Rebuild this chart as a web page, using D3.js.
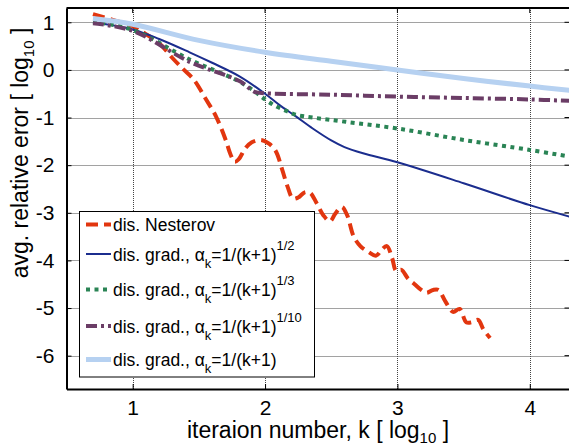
<!DOCTYPE html>
<html><head><meta charset="utf-8">
<script src="https://cdn.jsdelivr.net/npm/d3@7"></script>
<style>body{margin:0;background:#fff}svg{display:block}text{font-family:"Liberation Sans",Arial,sans-serif;fill:#000}</style>
</head><body>
<svg id="c" width="569" height="446"></svg>
<script>
const xTicks = [1, 2, 3, 4];
const yTicks = [-6, -5, -4, -3, -2, -1, 0, 1];

const nesterovX = [0.70,0.85,1.00,1.10,1.20,1.30,1.38,1.46,1.55,1.63,1.70,1.74,1.77,1.80,1.85,1.90,1.97,2.03,2.08,2.13,2.17,2.21,2.25,2.30,2.34,2.39,2.44,2.49,2.53,2.58,2.62,2.67,2.72,2.78,2.84,2.88,2.92,2.96,2.99,3.03,3.08,3.13,3.18,3.22,3.27,3.31,3.36,3.42,3.47,3.52,3.56,3.61,3.65,3.70];
const nesterovY = [1.17,1.05,0.92,0.75,0.56,0.25,0.02,-0.20,-0.60,-0.98,-1.45,-1.78,-1.93,-1.88,-1.65,-1.52,-1.47,-1.55,-1.70,-2.10,-2.45,-2.70,-2.68,-2.57,-2.58,-2.80,-3.05,-3.18,-3.02,-2.88,-3.05,-3.50,-3.70,-3.82,-3.90,-3.78,-3.70,-3.95,-4.22,-4.20,-4.38,-4.50,-4.62,-4.68,-4.62,-4.62,-4.85,-5.08,-5.02,-5.30,-5.30,-5.25,-5.45,-5.63];

const half_X = [0.70,1.00,1.20,1.43,1.60,1.81,2.00,2.11,2.23,2.36,2.50,2.60,2.74,3.00,3.50,4.00,4.30];
const half_Y = [1.00,0.85,0.65,0.37,0.15,-0.14,-0.50,-0.74,-0.97,-1.23,-1.48,-1.62,-1.75,-1.94,-2.38,-2.84,-3.08];

const third_X = [0.70,1.00,1.43,1.81,1.92,2.00,2.08,2.16,2.23,2.36,2.61,3.00,3.50,4.00,4.30];
const third_Y = [1.01,0.84,0.22,-0.25,-0.45,-0.62,-0.76,-0.86,-0.94,-1.00,-1.09,-1.23,-1.47,-1.68,-1.82];

const tenth_X = [0.70,1.00,1.43,1.81,1.92,2.00,2.50,3.00,3.50,4.00,4.30];
const tenth_Y = [0.98,0.82,0.17,-0.24,-0.46,-0.49,-0.52,-0.56,-0.59,-0.62,-0.65];

const one_X = [0.70,1.00,1.50,2.00,2.50,3.00,3.50,4.00,4.30];
const one_Y = [1.08,0.96,0.62,0.37,0.18,0.00,-0.18,-0.34,-0.43];

const legendLabels = ["dis. Nesterov","dis. grad., α","dis. grad., α","dis. grad., α","dis. grad., α"];
const legendExps = ["", "1/2", "1/3", "1/10", ""];

const series = [
  {x: nesterovX, y: nesterovY, color: "#e2360f", width: 4, dash: "12,6"},
  {x: half_X, y: half_Y, color: "#1b2d8e", width: 2, dash: null},
  {x: third_X, y: third_Y, color: "#2a8455", width: 4, dash: "4,4.5"},
  {x: tenth_X, y: tenth_Y, color: "#6b3d66", width: 4, dash: "11,4,3,4"},
  {x: one_X, y: one_Y, color: "#b6d1f1", width: 5, dash: null}
];

const L = 66.5, R = 569.5, T = 8, B = 389;
const x = d3.scaleLinear().domain([0.5, 4.3]).range([L, R]);
const y = d3.scaleLinear().domain([-6.7, 1.3]).range([B, T]);
const svg = d3.select("#c");

// grid
const grid = svg.append("g").attr("stroke", "#444").attr("stroke-width", 1).attr("stroke-dasharray", "1,1");
grid.selectAll(".gx").data(xTicks).join("line")
  .attr("x1", d => Math.round(x(d)) + 0.5).attr("x2", d => Math.round(x(d)) + 0.5).attr("y1", T).attr("y2", B);
grid.selectAll(".gy").data(yTicks).join("line")
  .attr("y1", d => Math.round(y(d)) + 0.5).attr("y2", d => Math.round(y(d)) + 0.5).attr("x1", L).attr("x2", R);

// lines
svg.append("clipPath").attr("id", "cp").append("rect").attr("x", L).attr("y", T).attr("width", R - L).attr("height", B - T);
const lineGen = d3.line().x(d => x(d[0])).y(d => y(d[1])).curve(d3.curveCatmullRom.alpha(0.5));
const gl = svg.append("g").attr("clip-path", "url(#cp)");
series.forEach(s => {
  const pts = s.x.map((v, i) => [v, s.y[i]]);
  gl.append("path").attr("d", lineGen(pts)).attr("fill", "none")
    .attr("stroke", s.color).attr("stroke-width", s.width)
    .attr("stroke-dasharray", s.dash).attr("stroke-linejoin", "round");
});

// axes
const ax = svg.append("g").attr("transform", `translate(0,${B})`)
  .call(d3.axisBottom(x).tickValues(xTicks).tickFormat(d3.format("d")).tickSizeInner(-5).tickSizeOuter(0).tickPadding(11));
const ay = svg.append("g").attr("transform", `translate(${L},0)`)
  .call(d3.axisLeft(y).tickValues(yTicks).tickFormat(d => d < 0 ? "-" + Math.abs(d) : String(d)).tickSizeInner(-5).tickSizeOuter(0).tickPadding(12));
[ax, ay].forEach(a => {
  a.select(".domain").attr("stroke", "#000").attr("stroke-width", 2);
  a.selectAll(".tick line").attr("stroke", "#000").attr("stroke-width", 1);
  a.selectAll(".tick text").style("font-size", "21px").style("font-family", "Liberation Sans, Arial, sans-serif").attr("fill", "#000");
});
// top and right borders with inward ticks
svg.append("line").attr("x1", L).attr("x2", R).attr("y1", T).attr("y2", T).attr("stroke", "#000").attr("stroke-width", 2);
svg.append("g").selectAll("line").data(xTicks).join("line")
  .attr("x1", d => x(d)).attr("x2", d => x(d)).attr("y1", T).attr("y2", T + 5).attr("stroke", "#000");
svg.append("g").selectAll("line").data(yTicks).join("line")
  .attr("y1", d => y(d)).attr("y2", d => y(d)).attr("x1", R - 5).attr("x2", R).attr("stroke", "#000");

// axis labels
const xl = svg.append("text").attr("x", (L + R) / 2).attr("y", 438).attr("text-anchor", "middle").style("font-size", "23px");
xl.append("tspan").text("iteraion number, k [ log");
xl.append("tspan").attr("dy", 5).style("font-size", "15px").text("10");
xl.append("tspan").attr("dy", -5).text(" ]");

const yl = svg.append("text").attr("transform", "translate(28,153) rotate(-90)").attr("text-anchor", "middle").style("font-size", "23px");
yl.append("tspan").text("avg. relative eror [ log");
yl.append("tspan").attr("dy", 6).style("font-size", "15px").text("10");
yl.append("tspan").attr("dy", -6).text(" ]");

// legend
const lg = svg.append("g");
lg.append("rect").attr("x", 79.5).attr("y", 211.5).attr("width", 235).attr("height", 165.5).attr("fill", "#fff").attr("stroke", "#000").attr("stroke-width", 1);
const rowY = [224.5, 254, 289.5, 326, 359.5];
series.forEach((s, i) => {
  lg.append("line").attr("x1", 86).attr("x2", 111).attr("y1", rowY[i]).attr("y2", rowY[i])
    .attr("stroke", s.color).attr("stroke-width", s.width).attr("stroke-dasharray", s.dash);
  const t = lg.append("text").attr("x", 113).attr("y", rowY[i] + 6.5).style("font-size", "17.5px");
  t.append("tspan").text(legendLabels[i]);
  if (i > 0) {
    t.append("tspan").attr("dy", 7).style("font-size", "13px").text("k");
    t.append("tspan").attr("dy", -7).text("=1/(k+1)");
    if (legendExps[i]) t.append("tspan").attr("dy", -11).style("font-size", "13px").text(legendExps[i]);
  }
});
</script>
</body></html>
